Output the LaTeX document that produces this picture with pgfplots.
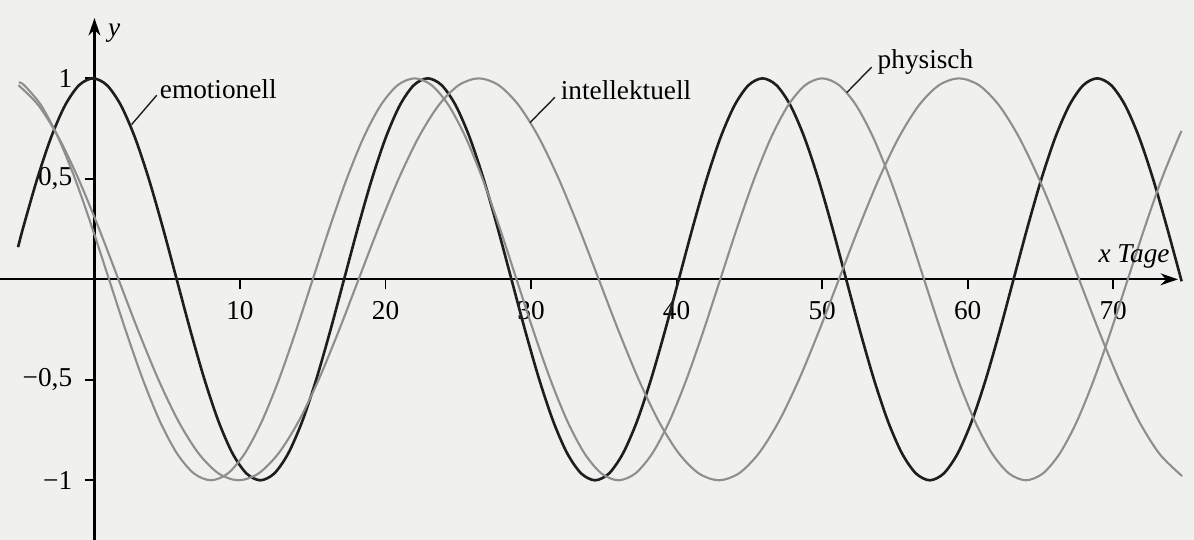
\documentclass[border=0pt]{standalone}
\usepackage{fontspec}
\setmainfont{Liberation Serif}
\usepackage{pgfplots}
\pgfplotsset{compat=1.18}
\usetikzlibrary{arrows.meta,backgrounds}
\definecolor{dunkel}{HTML}{1E1E1E}
\definecolor{hell}{HTML}{8E8E8E}
\definecolor{papier}{HTML}{F0F0EE}

\begin{document}
\begin{tikzpicture}[font=\fontsize{7.8}{9.4}\selectfont]
\begin{axis}[
    x=0.14627cm, y=2.0197cm,
    axis lines=middle,
    xmin=-6.49, xmax=74.45,
    ymin=-1.297, ymax=1.30,
    clip=false,
    axis line style={line width=0.6pt, -{Stealth[length=5pt,width=3.4pt]}},
    tick style={line width=0.5pt, black},
    tick align=outside,
    major tick length=0.1cm,
    xtick={10,20,30,40,50,60,70},
    xticklabels={10,20,30,40,50,60,70},
    ytick={-1,-0.5,0.5,1},
    yticklabels={{−1},{−0,5},{0,5},{1}},
    tick label style={font=\fontsize{7.8}{9.4}\selectfont},
]
% Periode 23 (im Bild schwarz, beschriftet mit "emotionell")
\addplot[dunkel, line width=0.75pt, smooth] coordinates {
    (-5.25,0.16) (-4.892,0.2588) (-3.933,0.5) (-2.975,0.7071) (-2.017,0.866) (-1.058,0.9659)
    (-0.1,1) (0.858,0.9659) (1.817,0.866) (2.775,0.7071) (3.733,0.5) (4.692,0.2588)
    (5.65,0) (6.608,-0.2588) (7.567,-0.5) (8.525,-0.7071) (9.483,-0.866) (10.442,-0.9659)
    (11.4,-1) (12.358,-0.9659) (13.317,-0.866) (14.275,-0.7071) (15.233,-0.5) (16.192,-0.2588)
    (17.15,0) (18.108,0.2588) (19.067,0.5) (20.025,0.7071) (20.983,0.866) (21.942,0.9659)
    (22.9,1) (23.858,0.9659) (24.817,0.866) (25.775,0.7071) (26.733,0.5) (27.692,0.2588)
    (28.65,0) (29.608,-0.2588) (30.567,-0.5) (31.525,-0.7071) (32.483,-0.866) (33.442,-0.9659)
    (34.4,-1) (35.358,-0.9659) (36.317,-0.866) (37.275,-0.7071) (38.233,-0.5) (39.192,-0.2588)
    (40.15,0) (41.108,0.2588) (42.067,0.5) (43.025,0.7071) (43.983,0.866) (44.942,0.9659)
    (45.9,1) (46.858,0.9659) (47.817,0.866) (48.775,0.7071) (49.733,0.5) (50.692,0.2588)
    (51.65,0) (52.608,-0.2588) (53.567,-0.5) (54.525,-0.7071) (55.483,-0.866) (56.442,-0.9659)
    (57.4,-1) (58.358,-0.9659) (59.317,-0.866) (60.275,-0.7071) (61.233,-0.5) (62.192,-0.2588)
    (63.15,0) (64.108,0.2588) (65.067,0.5) (66.025,0.7071) (66.983,0.866) (67.942,0.9659)
    (68.9,1) (69.858,0.9659) (70.817,0.866) (71.775,0.7071) (72.733,0.5) (73.692,0.2588)
    (74.7,-0.01)
};
% Periode 28 (grau, "physisch")
\addplot[hell, line width=0.6pt, smooth] coordinates {
    (-5.2,0.98) (-4.833,0.9659) (-3.667,0.866) (-2.5,0.7071) (-1.333,0.5) (-0.167,0.2588)
    (1,0) (2.167,-0.2588) (3.333,-0.5) (4.5,-0.7071) (5.667,-0.866) (6.833,-0.9659)
    (8,-1) (9.167,-0.9659) (10.333,-0.866) (11.5,-0.7071) (12.667,-0.5) (13.833,-0.2588)
    (15,0) (16.167,0.2588) (17.333,0.5) (18.5,0.7071) (19.667,0.866) (20.833,0.9659)
    (22,1) (23.167,0.9659) (24.333,0.866) (25.5,0.7071) (26.667,0.5) (27.833,0.2588)
    (29,0) (30.167,-0.2588) (31.333,-0.5) (32.5,-0.7071) (33.667,-0.866) (34.833,-0.9659)
    (36,-1) (37.167,-0.9659) (38.333,-0.866) (39.5,-0.7071) (40.667,-0.5) (41.833,-0.2588)
    (43,0) (44.167,0.2588) (45.333,0.5) (46.5,0.7071) (47.667,0.866) (48.833,0.9659)
    (50,1) (51.167,0.9659) (52.333,0.866) (53.5,0.7071) (54.667,0.5) (55.833,0.2588)
    (57,0) (58.167,-0.2588) (59.333,-0.5) (60.5,-0.7071) (61.667,-0.866) (62.833,-0.9659)
    (64,-1) (65.167,-0.9659) (66.333,-0.866) (67.5,-0.7071) (68.667,-0.5) (69.833,-0.2588)
    (71,0) (72.167,0.2588) (73.333,0.5) (74.5,0.7071) (74.7,0.738)
};
% Periode 33 (grau, "intellektuell")
\addplot[hell, line width=0.6pt, smooth] coordinates {
    (-5.225,0.9659) (-3.85,0.866) (-2.475,0.7071) (-1.1,0.5) (0.275,0.2588)
    (1.65,0) (3.025,-0.2588) (4.4,-0.5) (5.775,-0.7071) (7.15,-0.866) (8.525,-0.9659)
    (9.9,-1) (11.275,-0.9659) (12.65,-0.866) (14.025,-0.7071) (15.4,-0.5) (16.775,-0.2588)
    (18.15,0) (19.525,0.2588) (20.9,0.5) (22.275,0.7071) (23.65,0.866) (25.025,0.9659)
    (26.4,1) (27.775,0.9659) (29.15,0.866) (30.525,0.7071) (31.9,0.5) (33.275,0.2588)
    (34.65,0) (36.025,-0.2588) (37.4,-0.5) (38.775,-0.7071) (40.15,-0.866) (41.525,-0.9659)
    (42.9,-1) (44.275,-0.9659) (45.65,-0.866) (47.025,-0.7071) (48.4,-0.5) (49.775,-0.2588)
    (51.15,0) (52.525,0.2588) (53.9,0.5) (55.275,0.7071) (56.65,0.866) (58.025,0.9659)
    (59.4,1) (60.775,0.9659) (62.15,0.866) (63.525,0.7071) (64.9,0.5) (66.275,0.2588)
    (67.65,0) (69.025,-0.2588) (70.4,-0.5) (71.775,-0.7071) (73.15,-0.866) (74.525,-0.9659)
    (74.7,-0.974)
};
\draw[line width=0.4pt, dunkel] (axis cs:4.28,0.916) -- (axis cs:2.55,0.77);
\node[anchor=base west, inner sep=0pt] at (axis cs:4.45,0.902) {emotionell};
\draw[line width=0.4pt, dunkel] (axis cs:31.64,0.906) -- (axis cs:29.93,0.78);
\node[anchor=base west, inner sep=0pt] at (axis cs:32.0,0.897) {intellektuell};
\draw[line width=0.4pt, dunkel] (axis cs:53.4,1.056) -- (axis cs:51.7,0.93);
\node[anchor=base west, inner sep=0pt] at (axis cs:53.77,1.05) {physisch};
\node[inner sep=0pt, font=\fontsize{7.8}{9.4}\selectfont\itshape] at (axis cs:1.35,1.223) {y};
\node[inner sep=0pt, font=\fontsize{7.8}{9.4}\selectfont\itshape] at (axis cs:71.43,0.116) {x Tage};
\coordinate (pgbl) at (axis cs:-6.49,-1.297);
\coordinate (pgtr) at (axis cs:75.55,1.39);
\end{axis}
\begin{scope}[on background layer]
\fill[papier] (pgbl) rectangle (pgtr);
\end{scope}
\pgfresetboundingbox
\path[use as bounding box] (pgbl) rectangle (pgtr);
\end{tikzpicture}
\end{document}
